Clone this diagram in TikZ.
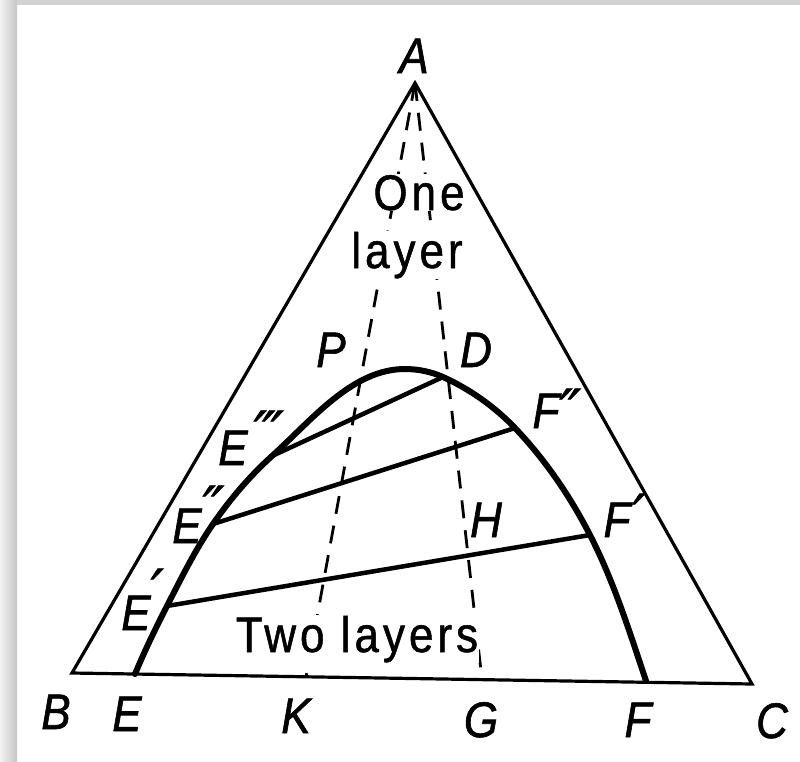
\documentclass[tikz,border=0pt]{standalone}
\usepackage{fontspec}
\setmainfont{Liberation Sans}
\newfontfamily\labfont{Liberation Sans}[FakeStretch=0.88, FakeBold=1.2]
\newfontfamily\txtfont{Liberation Sans}[FakeStretch=0.88, LetterSpace=8, FakeBold=1]
\newfontfamily\primefont{DejaVu Sans}[FakeBold=1]
\newcommand\myprimes[3]{\rlap{\hspace{#1}\raisebox{#2}{\primefont\itshape\fontsize{58}{58}\selectfont #3}}}
\tikzset{
  lab/.style={font=\labfont\itshape\fontsize{50}{54}\selectfont, inner sep=0pt, anchor=base},
  txt/.style={font=\txtfont\fontsize{50}{54}\selectfont, fill=white, inner sep=1pt, anchor=base},
  tri/.style={line width=3.2pt, line join=miter},
  bcurve/.style={line width=6pt, line cap=round},
  tie/.style={line width=4.5pt, line cap=round},
  dline/.style={line width=2.8pt, dash pattern=on 18pt off 12pt}
}
\begin{document}
\begin{tikzpicture}[x=1pt,y=-1pt]
\useasboundingbox (0,0) rectangle (800,761);
\fill[white] (0,0) rectangle (800,761);
\shade[left color=gray!10, right color=gray!45] (0,0) rectangle (17,761);
\fill[gray!35] (17,0) rectangle (800,5);
% points
\coordinate (A) at (415,83);
\coordinate (B) at (72,673);
\coordinate (C) at (752,684);
\coordinate (E) at (135,674);
\coordinate (F) at (646,681);
\coordinate (K) at (306,677);
\coordinate (G) at (482,680);
\coordinate (Ei) at (167,606);
\coordinate (Eii) at (213,524);
\coordinate (Eiii) at (272,456);
\coordinate (top) at (405,369);
\coordinate (D) at (443,377);
\coordinate (Fii) at (515,428);
\coordinate (Fi) at (590,535);
% dashed lines
\draw[dline] (A) -- (K);
\draw[dline] (A) -- (G);
% region texts
\node[txt] (one) at (419,210) {One};
\node[txt] (layer) at (407,268) {layer};
\node[txt] (two) at (357,652) {Two layers};
% triangle
\draw[tri] (A) -- (B) -- (C) -- cycle;
% binodal curve
\draw[bcurve] (E) .. controls (144.7,650.8) and (155.6,628.3) .. (Ei)
  .. controls (181.3,578.1) and (195.2,549.8) .. (Eii)
  .. controls (230.0,499.3) and (249.7,476.1) .. (Eiii)
  .. controls (311.4,420.5) and (352,369) .. (top)
  .. controls (417.9,369) and (431.2,371.7) .. (D)
  .. controls (469.8,389.1) and (494.7,406.7) .. (Fii)
  .. controls (545.1,459.6) and (570.1,496.2) .. (Fi)
  .. controls (613.8,581.4) and (629.5,631.6) .. (F);
% tie lines
\draw[tie] (Eiii) -- (D);
\draw[tie] (Eii) -- (Fii);
\draw[tie] (Ei) -- (Fi);
% labels
\node[lab] (lA) at (414,73) {A};
\node[lab] (lB) at (56,729) {B};
\node[lab] (lE) at (127,731) {E};
\node[lab] (lK) at (296,733) {K};
\node[lab] (lG) at (481,737) {G};
\node[lab] (lF) at (638,737) {F};
\node[lab] (lC) at (772,738) {C};
\node[lab] (lP) at (331,367) {P};
\node[lab] (lD) at (476,367) {D};
\node[lab] (lH) at (486,537) {H};
\node[lab] (lEiii) at (233,465) {E\myprimes{6pt}{12pt}{\char"2034}};
\node[lab] (lEii) at (187,543) {E\myprimes{1pt}{15pt}{\char"2033}};
\node[lab] (lEi) at (136,630) {E\myprimes{0pt}{19pt}{\char"2032}};
\node[lab] (lFii) at (546,428) {F\myprimes{0pt}{-3pt}{\char"2033}};
\node[lab] (lFi) at (617,537) {F\myprimes{2pt}{1pt}{\char"2032}};
\end{tikzpicture}
\end{document}
